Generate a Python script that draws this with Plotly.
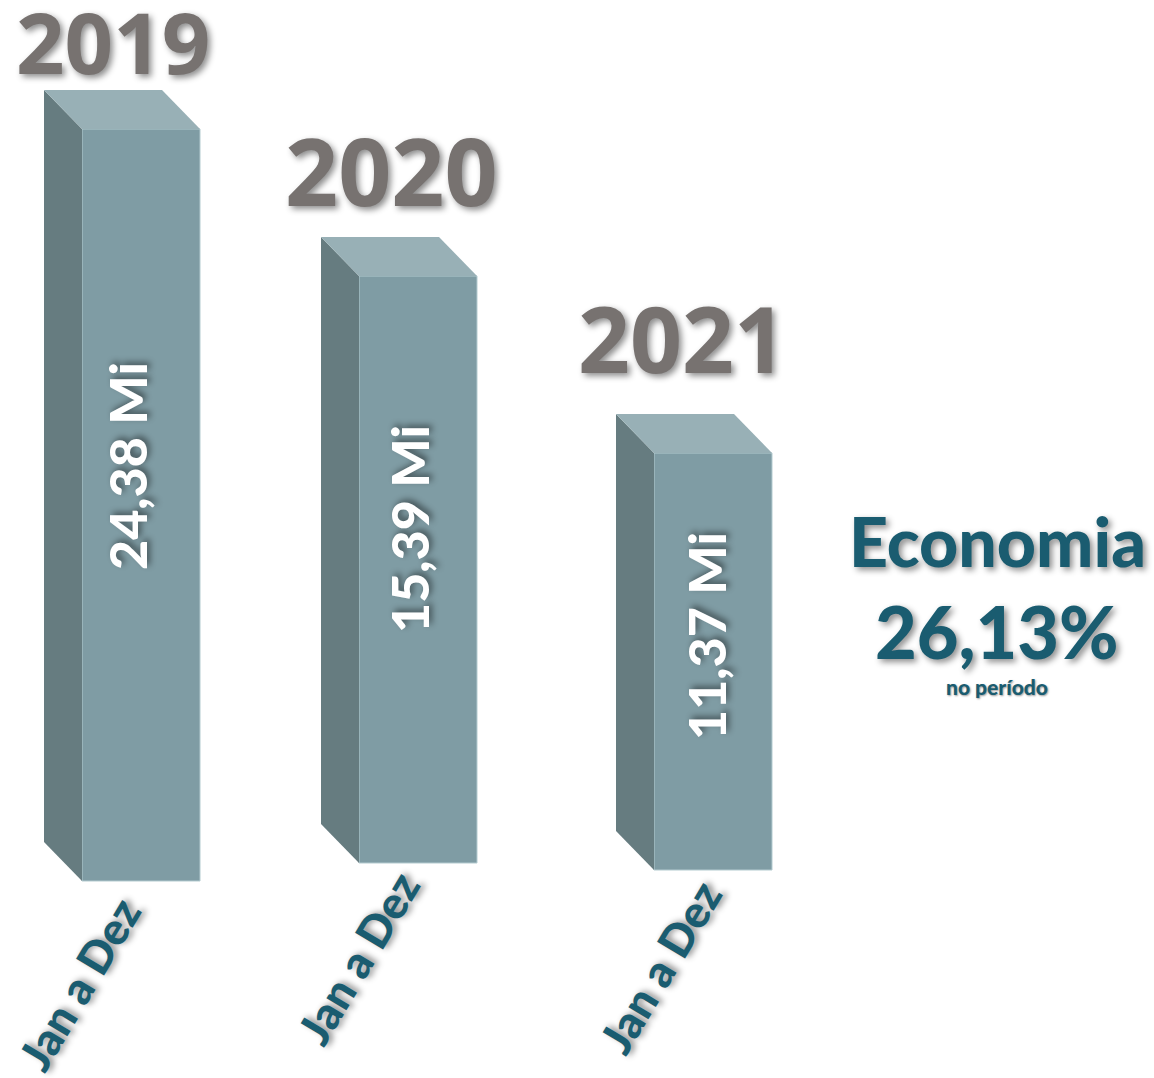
import plotly.graph_objects as go

# bars as they are drawn in the picture (the heights are not proportional to the labels)
years = ["2019", "2020", "2021"]
value_labels = ["24,38 Mi", "15,39 Mi", "11,37 Mi"]
period_labels = ["Jan a Dez", "Jan a Dez", "Jan a Dez"]
bar_centers = [141, 418, 713]
bar_bases = [197, 215, 208]
bar_heights = [752, 587, 417]

# label anchors
year_x = [113, 391, 682]
year_y = [1037, 908, 740]
year_sizes = [85, 93, 91]
value_x = [127, 409, 706]
value_y = [612, 549, 442]
period_x = [79, 358, 660]
period_y = [94, 120, 111]

BAR_WIDTH = 118
DEPTH_X = 38
DEPTH_Y = 39

FRONT = "#7f9ca4"
SIDE = "#667c80"
TOP = "#98b0b6"
EDGE = "#b4cbd0"
GREY = "#777270"
TEAL = "#1a5c70"
SHADOW = "3px 3px 6px rgba(0,0,0,0.45)"

fig = go.Figure()

# front faces
fig.add_trace(
    go.Bar(
        x=bar_centers,
        y=bar_heights,
        base=bar_bases,
        width=BAR_WIDTH,
        marker=dict(color=FRONT, line=dict(color=EDGE, width=1)),
    )
)

# side and top faces of the fake 3D box
for center, base, height in zip(bar_centers, bar_bases, bar_heights):
    left = center - BAR_WIDTH / 2
    right = center + BAR_WIDTH / 2
    top = base + height
    fig.add_trace(
        go.Scatter(
            x=[left, left - DEPTH_X, left - DEPTH_X, left, left],
            y=[base, base + DEPTH_Y, top + DEPTH_Y, top, base],
            mode="lines",
            fill="toself",
            fillcolor=SIDE,
            line=dict(width=0),
        )
    )
    fig.add_trace(
        go.Scatter(
            x=[left, left - DEPTH_X, right - DEPTH_X, right, left],
            y=[top, top + DEPTH_Y, top + DEPTH_Y, top, top],
            mode="lines",
            fill="toself",
            fillcolor=TOP,
            line=dict(width=0),
        )
    )

for i, year in enumerate(years):
    fig.add_annotation(
        x=year_x[i],
        y=year_y[i],
        text=year,
        showarrow=False,
        font=dict(family="Open Sans", size=year_sizes[i], color=GREY, weight=700, shadow=SHADOW),
    )
    fig.add_annotation(
        x=value_x[i],
        y=value_y[i],
        text=value_labels[i],
        textangle=-90,
        showarrow=False,
        font=dict(family="Lato", size=52, color="white", weight=900, shadow=SHADOW),
    )
    fig.add_annotation(
        x=period_x[i],
        y=period_y[i],
        text=period_labels[i],
        textangle=-59,
        showarrow=False,
        font=dict(family="Lato", size=45, color=TEAL, weight=900, shadow=SHADOW),
    )

fig.add_annotation(
    x=997, y=538, text="Economia", showarrow=False,
    font=dict(family="Lato", size=68, color=TEAL, weight=900, shadow=SHADOW),
)
fig.add_annotation(
    x=997, y=447, text="26,13%", showarrow=False,
    font=dict(family="Lato", size=72, color=TEAL, weight=900, shadow=SHADOW),
)
fig.add_annotation(
    x=997, y=392, text="no período", showarrow=False,
    font=dict(family="Lato", size=21, color=TEAL, weight=900, shadow="1px 1px 2px rgba(0,0,0,0.4)"),
)

fig.update_xaxes(range=[0, 1154], visible=False, fixedrange=True)
fig.update_yaxes(range=[0, 1078], visible=False, fixedrange=True)
fig.update_layout(
    width=1154,
    height=1078,
    margin=dict(l=0, r=0, t=0, b=0),
    showlegend=False,
    plot_bgcolor="white",
    paper_bgcolor="white",
)

# the page body has a default margin that would push the chart 8px down and right
fig.write_html(
    "out.html",
    config={"displayModeBar": False},
    post_script="document.body.style.margin = '0'; document.body.style.overflow = 'hidden';",
)
